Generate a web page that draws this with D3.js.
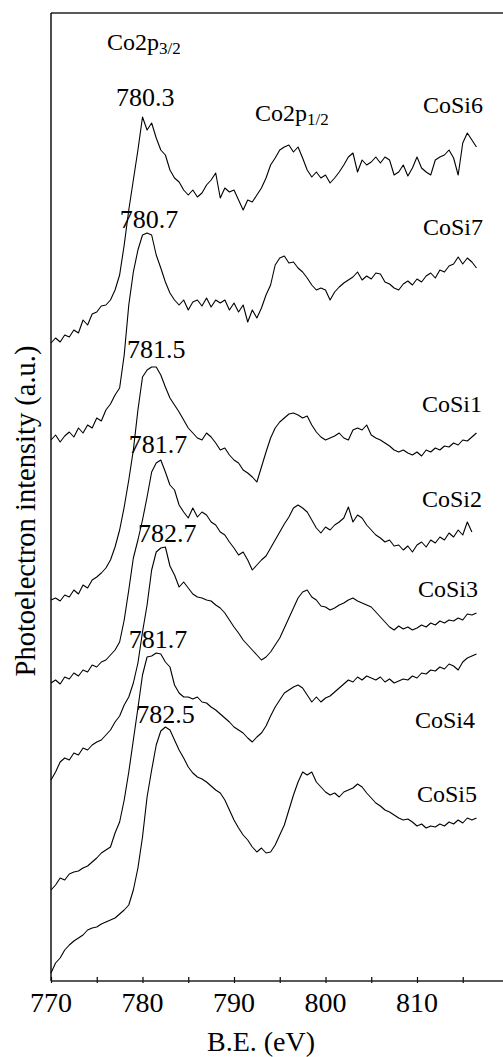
<!DOCTYPE html>
<html>
<head>
<meta charset="utf-8">
<script src="https://cdn.jsdelivr.net/npm/d3@7/dist/d3.min.js"></script>
</head>
<body style="margin:0">
<svg id="chart" width="503" height="1057" style="display:block"></svg>
<script>
// Binding energy grid (eV)
const energy = [
  770,770.5,771,771.5,772,772.5,773,773.5,774,774.5,
  775,775.5,776,776.5,777,777.5,778,778.5,779,779.5,
  780,780.5,781,781.5,782,782.5,783,783.5,784,784.5,
  785,785.5,786,786.5,787,787.5,788,788.5,789,789.5,
  790,790.5,791,791.5,792,792.5,793,793.5,794,794.5,
  795,795.5,796,796.5,797,797.5,798,798.5,799,799.5,
  800,800.5,801,801.5,802,802.5,803,803.5,804,804.5,
  805,805.5,806,806.5,807,807.5,808,808.5,809,809.5,
  810,810.5,811,811.5,812,812.5,813,813.5,814,814.5,
  815,815.5,816,816.5
];

// Photoelectron intensity (a.u., offset stacked) for each sample
const cosi6 = [
  657,662,658,665,663,670,667,680,675,686,
  688,694,695,700,710,725,755,790,820,850,
  883,870,877,862,850,845,830,822,818,810,
  805,810,803,807,815,820,827,802,812,808,
  810,800,790,800,798,805,812,822,835,842,
  850,853,855,848,853,842,830,823,828,822,
  825,817,822,828,835,843,847,828,840,835,
  838,843,837,843,840,825,828,835,824,832,
  843,832,828,825,840,843,845,850,842,825,
  857,867,860,853
];
const cosi7 = [
  560,565,558,564,568,563,572,567,575,572,
  582,579,590,596,605,612,645,695,728,750,
  765,767,765,745,732,718,707,700,695,700,
  690,698,700,694,702,693,700,697,700,690,
  697,688,695,678,690,682,692,705,715,735,
  742,744,737,738,732,728,722,715,710,712,
  710,700,708,713,717,720,723,728,720,724,
  721,727,726,718,716,712,710,716,719,715,
  721,718,724,727,722,730,728,734,736,743,
  736,742,738,732
];
const cosi1 = [
  400,402,399,405,403,410,406,415,412,420,
  423,427,432,440,453,470,493,520,550,590,
  623,630,633,633,625,613,602,595,588,580,
  572,567,562,560,567,563,557,550,552,545,
  540,537,530,527,523,518,533,548,562,572,
  578,582,586,587,585,582,584,575,568,563,
  560,562,564,567,562,560,570,572,570,575,
  565,562,560,557,554,550,548,550,547,545,
  548,544,550,548,552,550,554,553,557,555,
  560,559,563,567
];
const cosi2 = [
  317,320,316,323,321,327,324,330,328,335,
  333,338,340,345,350,358,380,410,442,460,
  480,503,528,537,540,528,515,510,495,488,
  482,492,483,488,485,478,475,468,465,458,
  452,445,448,440,430,435,440,444,452,460,
  468,476,483,492,495,492,488,480,472,467,
  473,470,475,478,482,493,478,485,482,475,
  470,465,462,458,460,454,455,450,454,448,
  455,458,453,460,457,463,460,467,463,470,
  465,478,468,null
];
const cosi3 = [
  220,228,238,242,240,247,245,252,250,255,
  258,260,265,270,278,284,295,303,317,337,
  368,395,430,448,452,453,434,425,413,418,
  412,406,403,402,400,399,395,392,387,380,
  373,367,360,355,350,345,340,343,348,355,
  362,372,382,392,402,408,410,403,400,394,
  393,390,392,395,397,400,402,399,397,395,
  393,388,383,378,373,370,374,371,373,370,
  372,375,373,377,375,379,377,380,379,382,
  380,386,385,387
];
const cosi4 = [
  110,115,122,120,126,128,129,132,134,138,
  142,147,150,153,167,178,200,228,260,292,
  325,343,344,347,346,338,333,315,307,303,
  303,301,303,298,297,293,290,286,282,278,
  273,270,267,262,258,263,267,274,284,293,
  300,307,310,313,315,312,305,298,303,298,
  302,304,308,312,316,320,318,323,320,324,
  322,320,323,318,321,317,319,321,320,324,
  322,327,326,330,329,333,331,336,334,330,
  338,342,344,346
];
const cosi5 = [
  27,37,42,50,55,59,62,65,70,72,
  73,76,78,80,82,86,90,95,110,132,
  163,203,230,255,269,273,270,260,250,242,
  233,227,223,221,218,214,210,207,200,190,
  180,172,165,160,153,148,152,147,148,155,
  165,175,190,205,218,228,225,228,218,213,
  208,205,207,203,208,210,212,216,213,207,
  202,197,194,190,188,185,182,180,181,178,
  174,176,172,174,173,176,174,178,176,180,
  177,182,180,182
];

const sampleNames = ["CoSi6", "CoSi7", "CoSi1", "CoSi2", "CoSi3", "CoSi4", "CoSi5"];
const peakBE = [780.3, 780.7, 781.5, 781.7, 782.7, 781.7, 782.5];
const xTicks = [770, 775, 780, 785, 790, 795, 800, 805, 810, 815];
const xTickLabels = [770, 780, 790, 800, 810];

const seriesValues = [cosi6, cosi7, cosi1, cosi2, cosi3, cosi4, cosi5];

// Layout
const plot = { left: 51, top: 13, bottom: 981, right: 508.5 };
const peakLabelLift = [11, 5, 9, 7, 5, 5, 4];
const nameLabelPos = [
  { x: 483, y: 113 }, { x: 483, y: 235 }, { x: 482, y: 412 }, { x: 482, y: 507 },
  { x: 478, y: 597 }, { x: 475, y: 728 }, { x: 477, y: 802 }
];

const svg = d3.select("#chart");

const x = d3.scaleLinear().domain([770, 820]).range([plot.left, plot.right]);
const y = d3.scaleLinear().domain([19, 987]).range([plot.bottom, plot.top]);

// Serif text helper
function addText(parent) {
  return parent.append("text")
    .attr("font-family", "Liberation Serif")
    .style("font-family", "\"Liberation Serif\"")
    .attr("fill", "#000");
}

// Frame: top and left borders
svg.append("line")
  .attr("x1", plot.left).attr("x2", 503).attr("y1", plot.top).attr("y2", plot.top)
  .attr("stroke", "#222").attr("stroke-width", 1.4);
svg.append("line")
  .attr("x1", plot.left).attr("x2", plot.left).attr("y1", plot.top).attr("y2", plot.bottom)
  .attr("stroke", "#000").attr("stroke-width", 1.4);

// Bottom axis: tick positions from the scale, small ticks crossing the line
const xAxis = d3.axisBottom(x)
  .tickValues(xTicks)
  .tickSize(0)
  .tickFormat("");
const gx = svg.append("g").attr("transform", `translate(0,${plot.bottom})`).call(xAxis);
gx.select(".domain").remove();
gx.selectAll(".tick text").remove();
svg.append("line")
  .attr("x1", plot.left).attr("x2", 503).attr("y1", plot.bottom).attr("y2", plot.bottom)
  .attr("stroke", "#222").attr("stroke-width", 1.4);
gx.selectAll(".tick").append("line")
  .attr("y1", -4).attr("y2", 2)
  .attr("stroke", "#000").attr("stroke-width", 1.2);

// Tick labels (every 10 eV)
xTickLabels.forEach(v => {
  addText(svg)
    .attr("x", x(v))
    .attr("y", plot.bottom + 31)
    .attr("text-anchor", "middle")
    .attr("font-size", 28)
    .text(v);
});

// Axis titles
addText(svg)
  .attr("x", 261).attr("y", 1051)
  .attr("text-anchor", "middle")
  .attr("font-size", 28)
  .text("B.E. (eV)");
addText(svg)
  .attr("transform", "translate(35,511) rotate(-90)")
  .attr("text-anchor", "middle")
  .attr("font-size", 28.5)
  .text("Photoelectron intensity (a.u.)");

// Spectra
const line = d3.line()
  .defined(d => d[1] != null)
  .x(d => x(d[0]))
  .y(d => y(d[1]));

seriesValues.forEach((vals, i) => {
  const pts = energy.map((e, j) => [e, vals[j]]);
  svg.append("path")
    .datum(pts)
    .attr("fill", "none")
    .attr("stroke", "#000")
    .attr("stroke-width", 1.1)
    .attr("stroke-linejoin", "round")
    .attr("d", line);

  // Peak position label
  const peakVal = d3.max(vals);
  addText(svg)
    .attr("x", x(peakBE[i]))
    .attr("y", y(peakVal) - peakLabelLift[i])
    .attr("text-anchor", "middle")
    .attr("font-size", 26)
    .text(peakBE[i].toFixed(1));

  // Sample name
  addText(svg)
    .attr("x", nameLabelPos[i].x)
    .attr("y", nameLabelPos[i].y)
    .attr("text-anchor", "end")
    .attr("font-size", 24)
    .text(sampleNames[i]);
});

// Core-level annotations
function coreLabel(xp, yp, sub) {
  const t = addText(svg).attr("x", xp).attr("y", yp).attr("font-size", 24);
  t.append("tspan").text("Co2p");
  t.append("tspan").attr("font-size", 17).attr("dy", 4).text(sub);
}
coreLabel(107, 50, "3/2");
coreLabel(255, 121, "1/2");
</script>
</body>
</html>
